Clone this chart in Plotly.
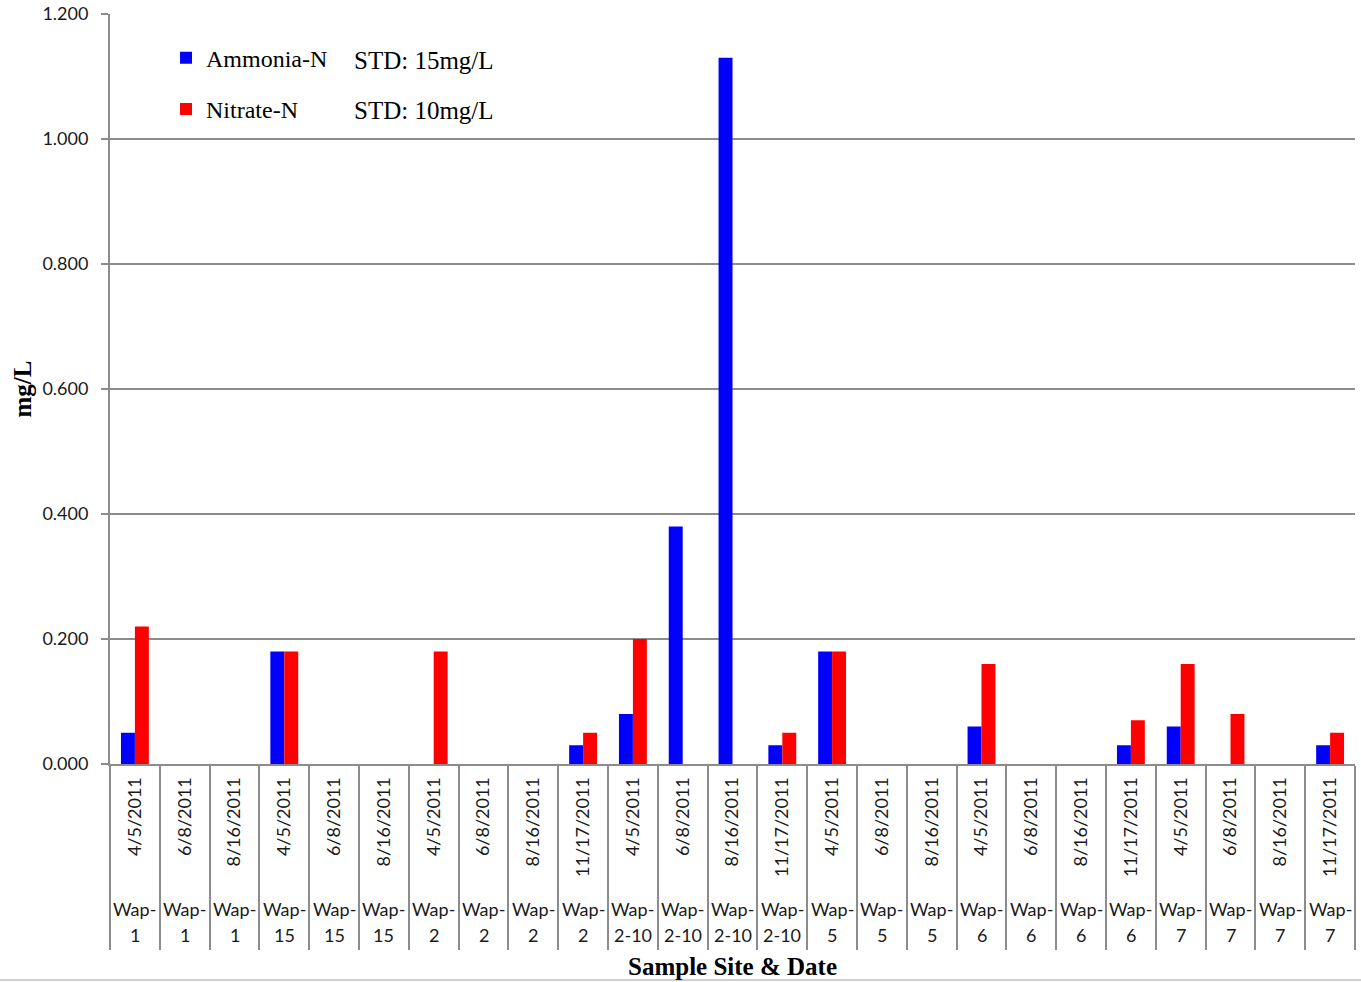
import plotly.graph_objects as go

# Sample sites and sampling dates (one bar pair per site/date)
sites = ["Wap-1", "Wap-1", "Wap-1",
         "Wap-15", "Wap-15", "Wap-15",
         "Wap-2", "Wap-2", "Wap-2", "Wap-2",
         "Wap-2-10", "Wap-2-10", "Wap-2-10", "Wap-2-10",
         "Wap-5", "Wap-5", "Wap-5",
         "Wap-6", "Wap-6", "Wap-6", "Wap-6",
         "Wap-7", "Wap-7", "Wap-7", "Wap-7"]
dates = ["4/5/2011", "6/8/2011", "8/16/2011",
         "4/5/2011", "6/8/2011", "8/16/2011",
         "4/5/2011", "6/8/2011", "8/16/2011", "11/17/2011",
         "4/5/2011", "6/8/2011", "8/16/2011", "11/17/2011",
         "4/5/2011", "6/8/2011", "8/16/2011",
         "4/5/2011", "6/8/2011", "8/16/2011", "11/17/2011",
         "4/5/2011", "6/8/2011", "8/16/2011", "11/17/2011"]

# Concentrations in mg/L (None = not detected)
ammonia_n = [0.05, None, None,
             0.18, None, None,
             None, None, None, 0.03,
             0.08, 0.38, 1.13, 0.03,
             0.18, None, None,
             0.06, None, None, 0.03,
             0.06, None, None, 0.03]
nitrate_n = [0.22, None, None,
             0.18, None, None,
             0.18, None, None, 0.05,
             0.20, None, None, 0.05,
             0.18, None, None,
             0.16, None, None, 0.07,
             0.16, 0.08, None, 0.05]

standards = ["STD: 15mg/L", "STD: 10mg/L"]
y_ticks = [0.0, 0.2, 0.4, 0.6, 0.8, 1.0, 1.2]

idx = list(range(len(dates)))
GRID = "#8c8c8c"
TICK_FONT = dict(family="Lato, Carlito, Calibri, sans-serif", size=18, color="#1a1a1a")
SERIF = "Liberation Serif, Times New Roman, serif"
PLOT_H = 750  # plot area height in px
PLOT_W = 1245

fig = go.Figure()
fig.add_trace(go.Bar(x=idx, y=ammonia_n, name="Ammonia-N",
                     marker=dict(color="#0000FF", line=dict(width=0)),
                     legendgroup="a"))
fig.add_trace(go.Bar(x=idx, y=nitrate_n, name="Nitrate-N",
                     marker=dict(color="#FF0000", line=dict(width=0)),
                     legendgroup="b"))

# Site names under the date labels, split over two lines per category
for i, s in enumerate(sites):
    name, num = s.split("-", 1)
    fig.add_annotation(x=i, y=0, xref="x", yref="y", yanchor="middle",
                       yshift=-145, showarrow=False,
                       text=f"{name}-", font=TICK_FONT)
    fig.add_annotation(x=i, y=0, xref="x", yref="y", yanchor="middle",
                       yshift=-171, showarrow=False,
                       text=num, font=TICK_FONT)

fig.add_annotation(x=0.5, xref="paper", y=0, yref="paper", yanchor="middle",
                   yshift=-202, showarrow=False,
                   text="<b>Sample Site &amp; Date</b>",
                   font=dict(family=SERIF, size=25, color="#000"))

# Standards next to the legend entries
for txt, ypx in zip(standards, [60, 111]):
    fig.add_annotation(x=(352 - 110) / PLOT_W, xref="paper", xanchor="left",
                       y=1 - (ypx - 14) / PLOT_H, yref="paper", yanchor="middle",
                       showarrow=False, text=txt,
                       font=dict(family=SERIF, size=25, color="#000"))

# Bottom border of the chart area
fig.add_shape(type="line", xref="paper", yref="paper",
              x0=-110 / PLOT_W, x1=1.005, y0=-216 / PLOT_H, y1=-216 / PLOT_H,
              line=dict(color="#bfbfbf", width=1.5))

fig.update_layout(
    width=1361, height=982,
    margin=dict(l=110, r=6, t=14, b=218, autoexpand=False),
    plot_bgcolor="white", paper_bgcolor="white",
    barmode="group", bargap=0.44, bargroupgap=0,
    showlegend=True,
    legend=dict(x=0.045, y=0.971, xanchor="left", yanchor="top",
                font=dict(family=SERIF, size=24, color="#000"),
                tracegroupgap=17, bgcolor="rgba(0,0,0,0)",
                itemwidth=30),
    xaxis=dict(range=[-0.5, len(dates) - 0.5], automargin=False,
               tickmode="array", tickvals=idx, ticktext=dates,
               tickangle=-90, ticks="", tickfont=TICK_FONT,
               ticklabelstandoff=4,
               showgrid=False, zeroline=False,
               showline=True, linecolor=GRID, linewidth=2,
               minor=dict(tick0=-0.5, dtick=1, ticks="outside",
                          ticklen=184, tickcolor=GRID, tickwidth=2)),
    yaxis=dict(range=[0, 1.2], automargin=False,
               tickmode="array", tickvals=y_ticks,
               tickformat=".3f", tickfont=TICK_FONT,
               ticks="outside", ticklen=7, tickcolor=GRID, tickwidth=2,
               showgrid=True, gridcolor=GRID, gridwidth=1.5,
               zeroline=False, showline=True, linecolor=GRID, linewidth=2,
               ticklabelstandoff=9,
               title=dict(text="<b>mg/L</b>", standoff=4,
                          font=dict(family=SERIF, size=25, color="#000"))),
)

fig.write_html("out.html")
